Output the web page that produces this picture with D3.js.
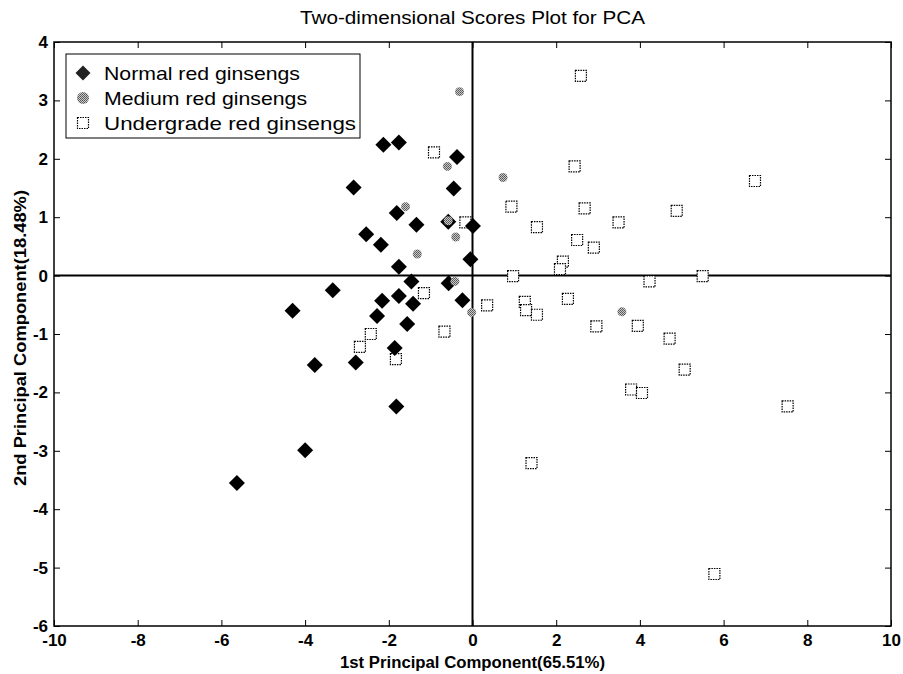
<!DOCTYPE html>
<html>
<head>
<meta charset="utf-8">
<script src="https://cdn.jsdelivr.net/npm/d3@7"></script>
<style>
    body { margin: 0; background: #fff; }
    svg { display: block; font-family: "Liberation Sans", Arial, sans-serif; }
</style>
</head>
<body>
<div id="chart"></div>
<script>
// PCA scores, [PC1, PC2]
const normalScores = [
    [-2.13, 2.24], [-1.76, 2.28], [-0.37, 2.03], [-2.84, 1.51], [-0.45, 1.49],
    [-1.81, 1.07], [-1.34, 0.87], [-0.58, 0.92], [0.01, 0.85], [-2.54, 0.71],
    [-2.19, 0.53], [-0.05, 0.28], [-1.76, 0.15], [-1.46, -0.10], [-0.57, -0.13],
    [-3.34, -0.25], [-0.24, -0.42], [-2.16, -0.43], [-1.76, -0.35], [-1.42, -0.48],
    [-4.30, -0.60], [-2.28, -0.69], [-1.56, -0.83], [-1.86, -1.24], [-3.77, -1.53],
    [-2.79, -1.49], [-1.82, -2.24], [-4.00, -2.99], [-5.63, -3.55]
];
const mediumScores = [
    [-0.31, 3.15], [-0.60, 1.87], [0.73, 1.68], [-1.60, 1.18], [-0.58, 0.94],
    [-0.40, 0.66], [-1.32, 0.37], [-0.42, -0.10], [-0.02, -0.63], [3.57, -0.62]
];
const undergradeScores = [
    [-0.92, 2.11], [-0.17, 0.91], [-1.16, -0.30], [0.35, -0.51], [-0.67, -0.96],
    [-2.43, -1.00], [-2.69, -1.22], [-1.83, -1.43], [2.59, 3.42], [2.44, 1.87],
    [0.93, 1.18], [2.68, 1.15], [4.88, 1.11], [1.54, 0.83], [3.49, 0.91],
    [2.50, 0.61], [2.90, 0.48], [2.16, 0.24], [2.09, 0.11], [0.97, -0.01],
    [5.50, -0.01], [4.23, -0.10], [1.25, -0.45], [1.28, -0.59], [1.54, -0.67],
    [2.28, -0.40], [2.96, -0.87], [3.95, -0.86], [4.71, -1.08], [5.07, -1.61],
    [3.79, -1.95], [4.05, -2.01], [7.53, -2.24], [5.78, -5.11], [6.75, 1.62],
    [1.41, -3.21]
];
const seriesNames = ['Normal red ginsengs', 'Medium red ginsengs', 'Undergrade red ginsengs'];
const xTicks = [-10, -8, -6, -4, -2, 0, 2, 4, 6, 8, 10];
const yTicks = [-6, -5, -4, -3, -2, -1, 0, 1, 2, 3, 4];

const width = 903;
const height = 674;
const margin = { top: 42, right: 12, bottom: 48, left: 54 };

const svg = d3.select('#chart')
    .append('svg')
    .attr('width', width)
    .attr('height', height);

// Dithered grey fill for the medium markers
const defs = svg.append('defs');
const pat = defs.append('pattern')
    .attr('id', 'dither')
    .attr('width', 2)
    .attr('height', 2)
    .attr('patternUnits', 'userSpaceOnUse');
pat.append('rect').attr('width', 2).attr('height', 2).attr('fill', '#c8c8c8');
pat.append('rect').attr('width', 1).attr('height', 1).attr('fill', '#555');
pat.append('rect').attr('x', 1).attr('y', 1).attr('width', 1).attr('height', 1).attr('fill', '#666');

const x = d3.scaleLinear()
    .domain([-10, 10])
    .range([margin.left, width - margin.right]);
const y = d3.scaleLinear()
    .domain([-6, 4])
    .range([height - margin.bottom, margin.top]);

const x0 = x.range()[0], x1 = x.range()[1];
const y0 = y.range()[1], y1 = y.range()[0];

// plain hyphen for negatives
const fmt = d => String(d);

// Axes with inward ticks on all four sides
const tickFont = g => g.selectAll('text')
    .style('font-size', '17px')
    .style('font-weight', 'bold')
    .attr('fill', '#000');

svg.append('g')
    .attr('transform', `translate(0,${y1})`)
    .call(d3.axisBottom(x).tickValues(xTicks).tickFormat(fmt).tickSizeInner(-6).tickSizeOuter(0).tickPadding(8))
    .call(g => g.select('.domain').remove())
    .call(tickFont);

svg.append('g')
    .attr('transform', `translate(${x0},0)`)
    .call(d3.axisLeft(y).tickValues(yTicks).tickFormat(fmt).tickSizeInner(-6).tickSizeOuter(0).tickPadding(6))
    .call(g => g.select('.domain').remove())
    .call(tickFont);

svg.append('g')
    .attr('transform', `translate(0,${y0})`)
    .call(d3.axisTop(x).tickValues(xTicks).tickSizeInner(-6).tickSizeOuter(0).tickFormat(''))
    .call(g => g.select('.domain').remove());

svg.append('g')
    .attr('transform', `translate(${x1},0)`)
    .call(d3.axisRight(y).tickValues(yTicks).tickSizeInner(-6).tickSizeOuter(0).tickFormat(''))
    .call(g => g.select('.domain').remove());

svg.selectAll('.tick line').attr('stroke', '#000').attr('stroke-width', 1);

// Plot frame
svg.append('rect')
    .attr('x', x0)
    .attr('y', y0)
    .attr('width', x1 - x0)
    .attr('height', y1 - y0)
    .attr('fill', 'none')
    .attr('stroke', '#000')
    .attr('stroke-width', 1.5);

// Zero lines
svg.append('line')
    .attr('x1', x(0)).attr('x2', x(0))
    .attr('y1', y0).attr('y2', y1)
    .attr('stroke', '#000').attr('stroke-width', 2);
svg.append('line')
    .attr('x1', x0).attr('x2', x1)
    .attr('y1', y(0)).attr('y2', y(0))
    .attr('stroke', '#000').attr('stroke-width', 2);

// Markers
const diamond = (cx, cy, r) => `M${cx},${cy - r}L${cx + r},${cy}L${cx},${cy + r}L${cx - r},${cy}Z`;

const drawSquare = (sel, sz) => sel
    .attr('width', sz).attr('height', sz)
    .attr('fill', '#fff')
    .attr('stroke', '#000')
    .attr('stroke-width', 1.2)
    .attr('stroke-dasharray', '1.5,1');

svg.append('g').selectAll('rect')
    .data(undergradeScores)
    .join('rect')
    .attr('x', d => x(d[0]) - 5.5)
    .attr('y', d => y(d[1]) - 5.5)
    .call(drawSquare, 11);

svg.append('g').selectAll('path')
    .data(normalScores)
    .join('path')
    .attr('d', d => diamond(x(d[0]), y(d[1]), 8))
    .attr('fill', '#000');

svg.append('g').selectAll('circle')
    .data(mediumScores)
    .join('circle')
    .attr('cx', d => x(d[0]))
    .attr('cy', d => y(d[1]))
    .attr('r', 4.5)
    .attr('fill', 'url(#dither)');

// Legend
const legend = svg.append('g');
legend.append('rect')
    .attr('x', 66).attr('y', 54)
    .attr('width', 294).attr('height', 84)
    .attr('fill', '#fff')
    .attr('stroke', '#000')
    .attr('stroke-width', 1);

const rowY = [73, 98, 123];
const textLen = [196, 203, 252];
legend.append('path')
    .attr('d', diamond(83, rowY[0], 7.5))
    .attr('fill', '#222');
legend.append('circle')
    .attr('cx', 83).attr('cy', rowY[1]).attr('r', 6)
    .attr('fill', 'url(#dither)');
legend.append('rect')
    .attr('x', 83 - 5.5).attr('y', rowY[2] - 5.5)
    .call(drawSquare, 11);

legend.selectAll('text')
    .data(seriesNames)
    .join('text')
    .attr('x', 104)
    .attr('y', (d, i) => rowY[i] + 7)
    .attr('textLength', (d, i) => textLen[i])
    .attr('lengthAdjust', 'spacingAndGlyphs')
    .style('font-size', '19px')
    .text(d => d);

// Titles
svg.append('text')
    .attr('x', x(0))
    .attr('y', 24)
    .attr('text-anchor', 'middle')
    .attr('textLength', 345)
    .attr('lengthAdjust', 'spacingAndGlyphs')
    .style('font-size', '18px')
    .text('Two-dimensional Scores Plot for PCA');

svg.append('text')
    .attr('x', x(0))
    .attr('y', 668)
    .attr('text-anchor', 'middle')
    .attr('textLength', 265)
    .attr('lengthAdjust', 'spacingAndGlyphs')
    .style('font-size', '16px')
    .style('font-weight', 'bold')
    .text('1st Principal Component(65.51%)');

svg.append('text')
    .attr('transform', `translate(26,${338}) rotate(-90)`)
    .attr('text-anchor', 'middle')
    .attr('textLength', 296)
    .attr('lengthAdjust', 'spacingAndGlyphs')
    .style('font-size', '17px')
    .style('font-weight', 'bold')
    .text('2nd Principal Component(18.48%)');
</script>
</body>
</html>
